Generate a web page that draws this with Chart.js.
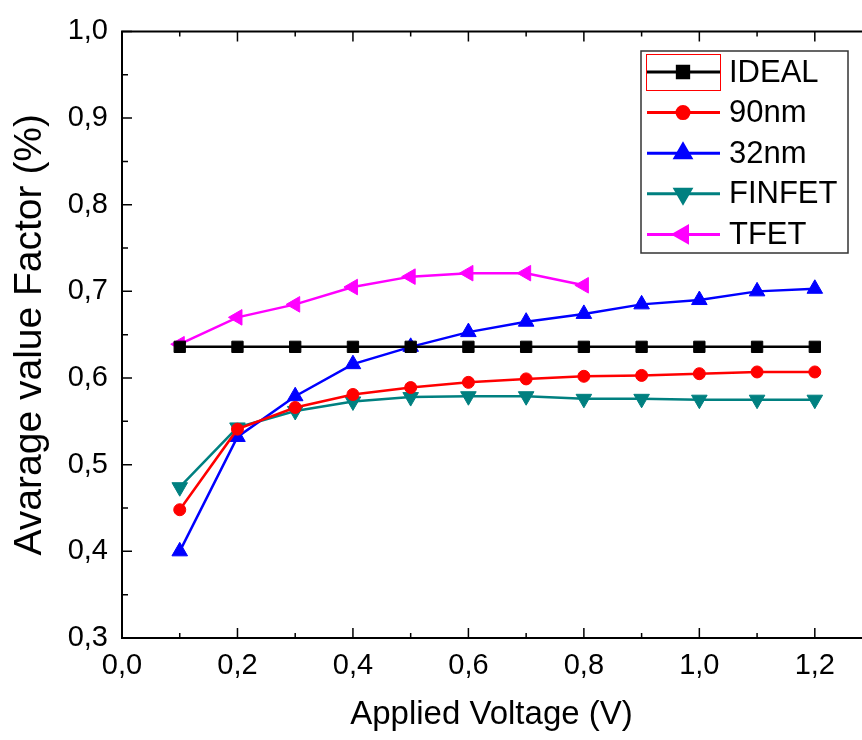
<!DOCTYPE html>
<html>
<head>
<meta charset="utf-8">
<script src="https://cdn.jsdelivr.net/npm/chart.js@4.4.1/dist/chart.umd.min.js"></script>
<style>
  body { margin: 0; background: #fff; }
  canvas { display: block; }
</style>
</head>
<body>
<canvas id="myChart" width="862" height="740"></canvas>
<script>
// values
const volts = [0.1, 0.2, 0.3, 0.4, 0.5, 0.6, 0.7, 0.8, 0.9, 1.0, 1.1, 1.2]
const ideal = [0.636, 0.636, 0.636, 0.636, 0.636, 0.636, 0.636, 0.636, 0.636, 0.636, 0.636, 0.636]
const nm90 = [0.448, 0.541, 0.566, 0.581, 0.589, 0.595, 0.599, 0.602, 0.603, 0.605, 0.607, 0.607]
const nm32 = [0.400, 0.532, 0.579, 0.616, 0.636, 0.653, 0.665, 0.674, 0.685, 0.690, 0.700, 0.703]
const finfet = [0.474, 0.543, 0.562, 0.573, 0.578, 0.579, 0.579, 0.576, 0.576, 0.575, 0.575, 0.575]
const tfet = [0.639, 0.670, 0.685, 0.705, 0.717, 0.721, 0.721, 0.707]

const xTicks = [0.0, 0.2, 0.4, 0.6, 0.8, 1.0, 1.2]
const yTicks = [0.3, 0.4, 0.5, 0.6, 0.7, 0.8, 0.9, 1.0]

const FONT = "'Liberation Sans', Arial, sans-serif"

function pts(arr) {
    return arr.map((v, i) => ({ x: volts[i], y: v }))
}
function fmt(v) {
    return v.toFixed(1).replace('.', ',')
}

function series(label, arr, color, style, radius, rotation) {
    return {
        label: label,
        data: pts(arr),
        borderColor: color,
        backgroundColor: color,
        borderWidth: 2.5,
        pointStyle: style,
        pointRadius: radius,
        pointHoverRadius: radius,
        pointRotation: rotation,
        pointBorderWidth: 1,
        tension: 0
    }
}

const datasets = [
    series('IDEAL', ideal, '#000000', 'rect', 8, 0),
    series('90nm', nm90, '#ff0000', 'circle', 6, 0),
    series('32nm', nm32, '#0000ff', 'triangle', 9, 0),
    series('FINFET', finfet, '#008080', 'triangle', 9, 180),
    series('TFET', tfet, '#ff00ff', 'triangle', 9, 270)
]

// frame with inward ticks, like the origin plot
const framePlugin = {
    id: 'frame',
    afterDatasetsDraw(chart) {
        const ctx = chart.ctx
        const a = chart.chartArea
        const xs = chart.scales.x
        const ys = chart.scales.y
        ctx.save()
        ctx.strokeStyle = '#000'
        ctx.lineWidth = 2
        ctx.beginPath()
        ctx.moveTo(862, a.top)
        ctx.lineTo(a.left, a.top)
        ctx.lineTo(a.left, a.bottom)
        ctx.lineTo(862, a.bottom)
        ctx.stroke()

        ctx.lineWidth = 1.5
        ctx.beginPath()
        for (let i = 0; i <= 13; i++) {
            const v = i * 0.1
            const px = xs.getPixelForValue(v)
            if (px > 861) continue
            const len = i % 2 === 0 ? 10 : 5
            ctx.moveTo(px, a.bottom)
            ctx.lineTo(px, a.bottom - len)
            ctx.moveTo(px, a.top)
            ctx.lineTo(px, a.top + len)
        }
        for (let i = 0; i <= 14; i++) {
            const v = 0.3 + i * 0.05
            const py = ys.getPixelForValue(v)
            const len = i % 2 === 0 ? 10 : 6
            ctx.moveTo(a.left, py)
            ctx.lineTo(a.left + len, py)
        }
        ctx.stroke()
        ctx.restore()
    }
}

// legend box inside the plot
const legendPlugin = {
    id: 'boxLegend',
    afterDraw(chart) {
        const ctx = chart.ctx
        const bx = 641, by = 51, bw = 207, bh = 202
        ctx.save()
        ctx.fillStyle = '#fff'
        ctx.fillRect(bx, by, bw, bh)
        ctx.strokeStyle = '#333'
        ctx.lineWidth = 1.5
        ctx.strokeRect(bx, by, bw, bh)

        chart.data.datasets.forEach((ds, i) => {
            const cy = 72 + i * 40.6
            ctx.strokeStyle = ds.borderColor
            ctx.lineWidth = 3
            ctx.beginPath()
            ctx.moveTo(647, cy)
            ctx.lineTo(720, cy)
            ctx.stroke()
            ctx.fillStyle = ds.backgroundColor
            Chart.helpers.drawPoint(ctx, {
                pointStyle: ds.pointStyle,
                radius: ds.pointRadius,
                rotation: ds.pointRotation,
                borderWidth: 1
            }, 683, cy)
            ctx.fillStyle = '#000'
            ctx.font = '31px ' + FONT
            ctx.textBaseline = 'middle'
            ctx.textAlign = 'left'
            ctx.fillText(ds.label, 729, cy + 1)
        })
        // selection box round the first sample
        ctx.strokeStyle = '#ff0000'
        ctx.lineWidth = 1
        ctx.strokeRect(646.5, 54.5, 74, 36)
        ctx.restore()
    }
}

const config = {
    type: 'line',
    data: { datasets: datasets },
    options: {
        responsive: false,
        devicePixelRatio: 1,
        animation: false,
        events: [],
        layout: { autoPadding: false, padding: { top: 29, right: 1, left: 0, bottom: 0 } },
        plugins: {
            legend: { display: false },
            tooltip: { enabled: false }
        },
        scales: {
            x: {
                type: 'linear',
                min: 0,
                max: 1.28,
                afterBuildTicks: s => { s.ticks = xTicks.map(v => ({ value: v })) },
                afterFit: s => { s.height = 102; s.paddingLeft = 0; s.paddingRight = 0 },
                grid: { display: false, drawTicks: false },
                border: { display: false },
                ticks: {
                    callback: v => fmt(v),
                    color: '#000',
                    padding: 11,
                    maxRotation: 0,
                    font: { family: FONT, size: 29 }
                },
                title: {
                    display: true,
                    text: 'Applied Voltage (V)',
                    color: '#000',
                    padding: { top: 0, bottom: 5 },
                    font: { family: FONT, size: 33 }
                }
            },
            y: {
                type: 'linear',
                min: 0.3,
                max: 1.0,
                afterBuildTicks: s => { s.ticks = yTicks.map(v => ({ value: v })) },
                afterFit: s => { s.width = 122 },
                grid: { display: false, drawTicks: false },
                border: { display: false },
                ticks: {
                    callback: v => fmt(v),
                    color: '#000',
                    padding: 14,
                    font: { family: FONT, size: 29 }
                },
                title: {
                    display: true,
                    text: 'Avarage value Factor (%)',
                    color: '#000',
                    padding: { top: 7, bottom: 0 },
                    font: { family: FONT, size: 39 }
                }
            }
        }
    },
    plugins: [framePlugin, legendPlugin]
}

const myChart = new Chart(document.getElementById('myChart'), config)
</script>
</body>
</html>
